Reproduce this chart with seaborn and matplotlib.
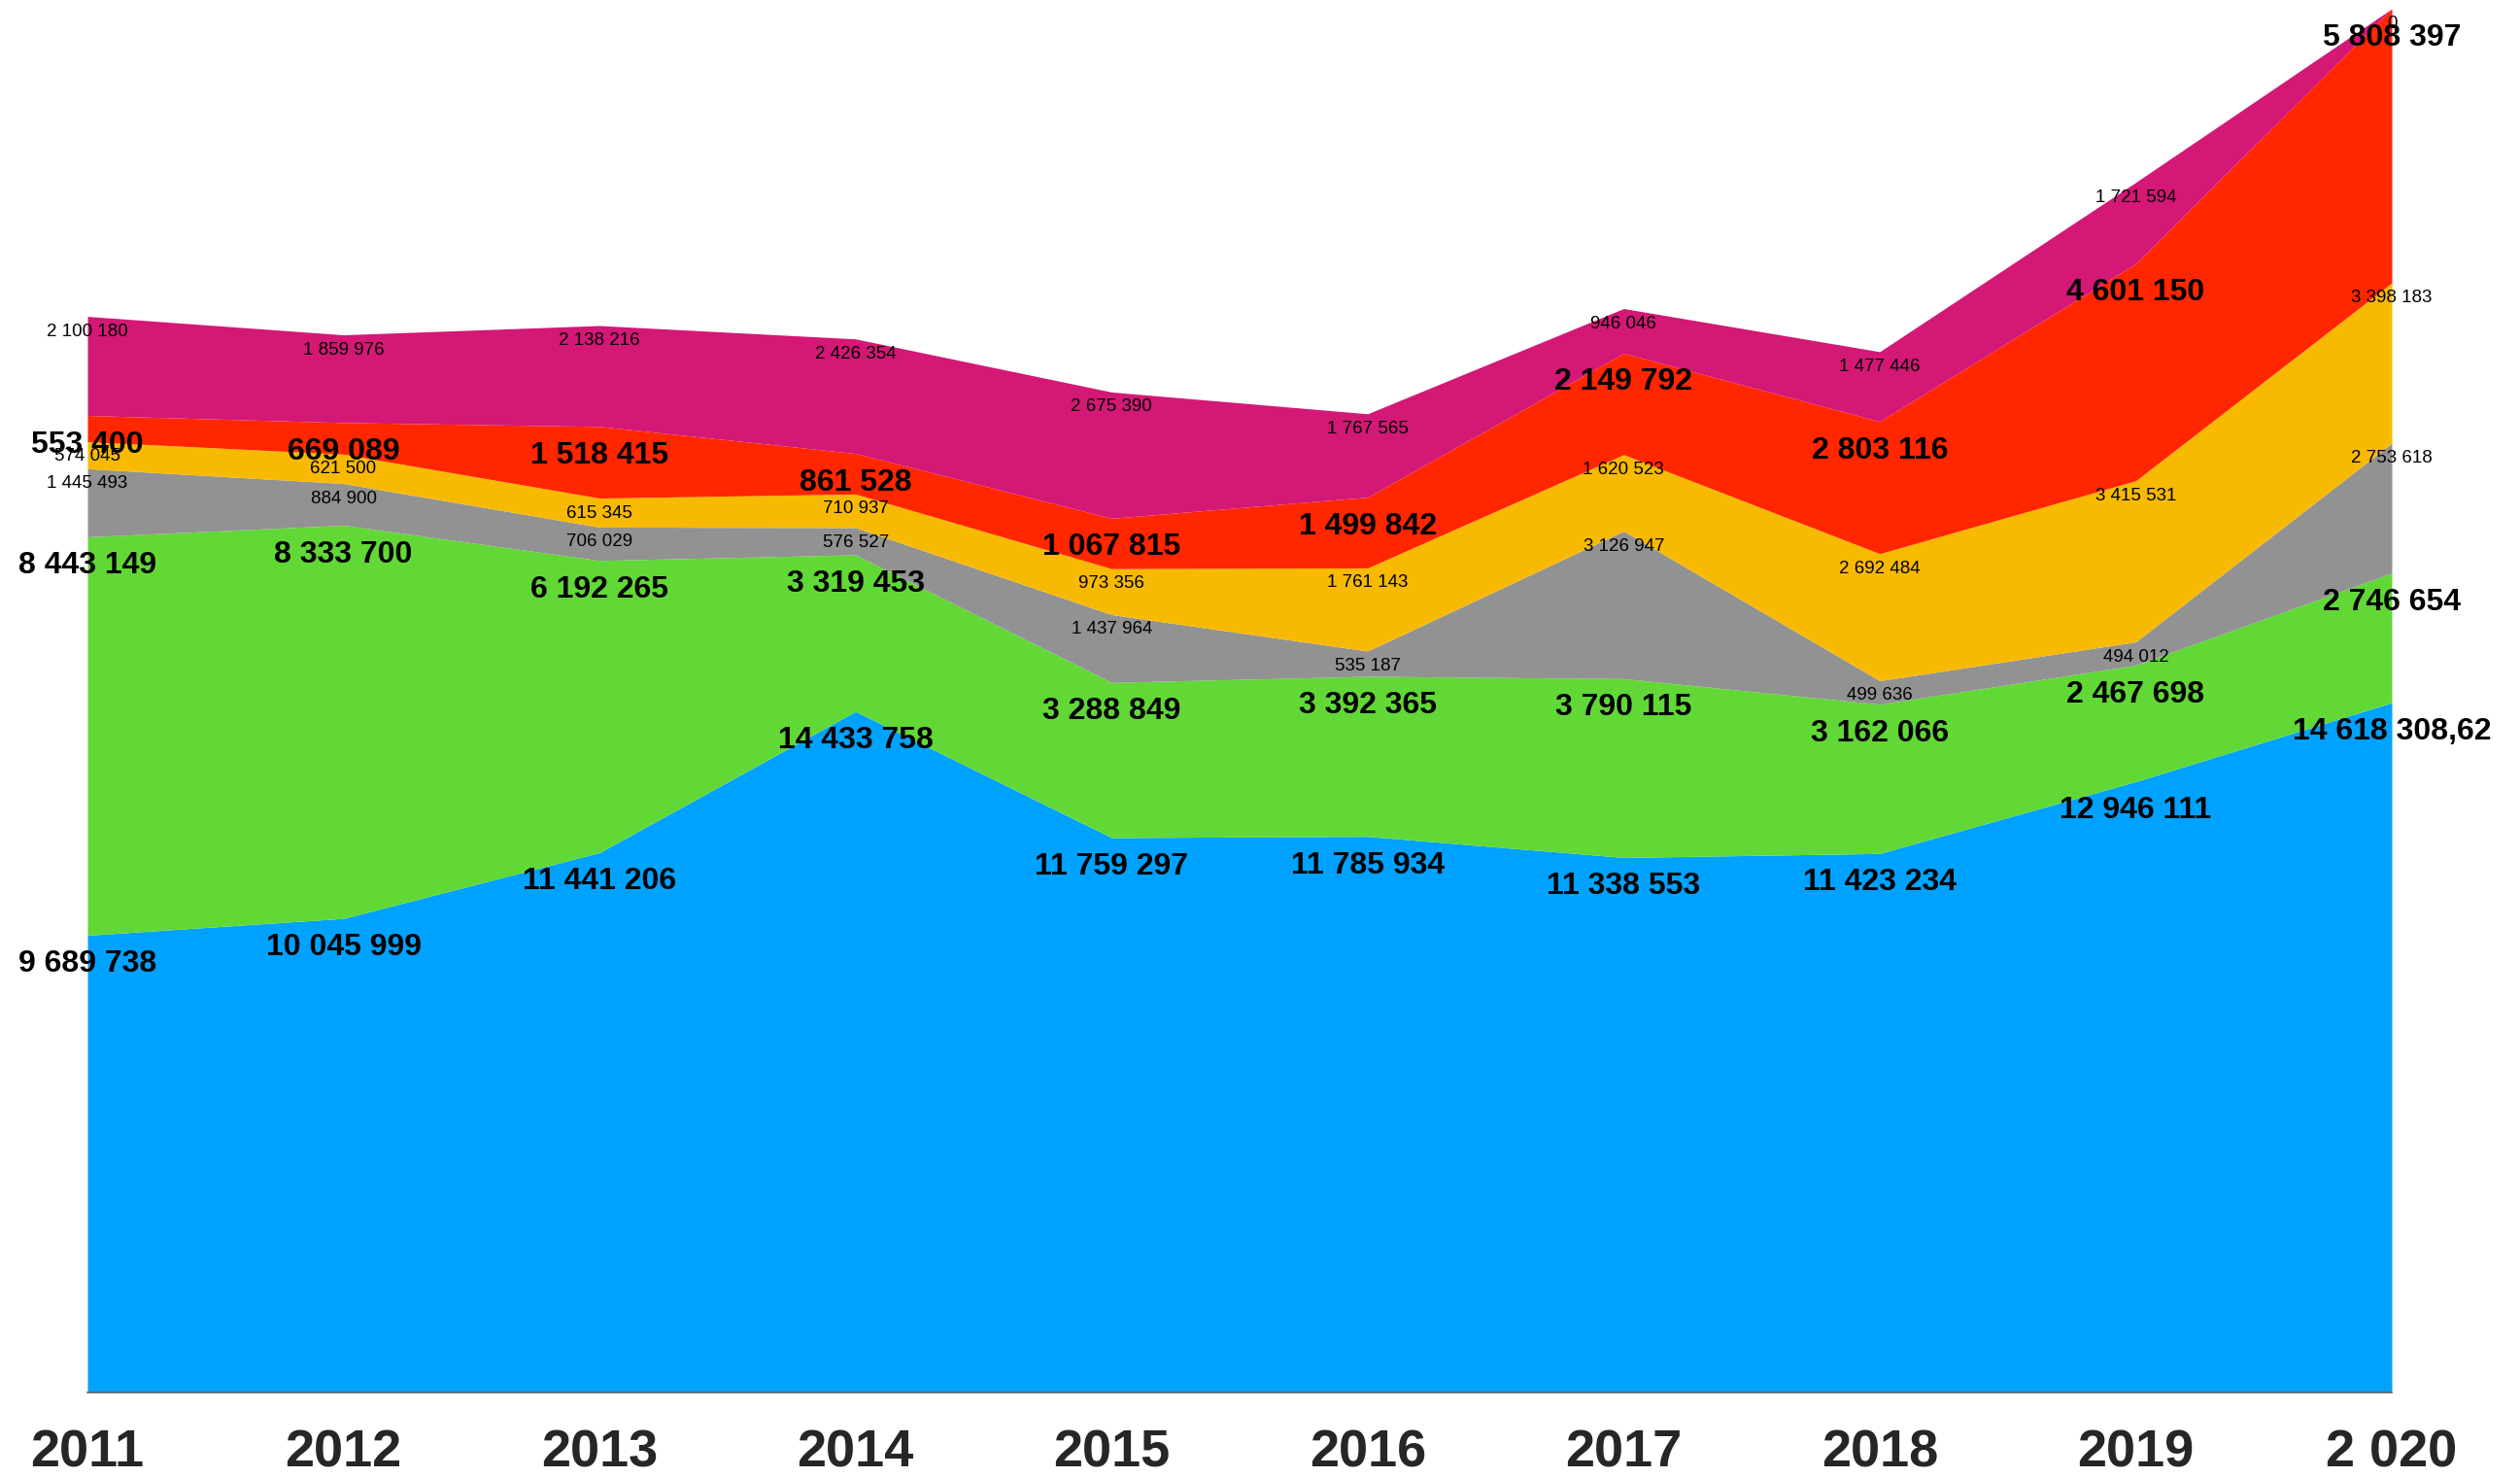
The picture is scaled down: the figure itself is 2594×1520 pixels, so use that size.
import numpy as np
import pandas as pd
import matplotlib
matplotlib.use("Agg")
import matplotlib.pyplot as plt
import seaborn as sns

# DATA

years = ["2011", "2012", "2013", "2014", "2015", "2016", "2017", "2018", "2019", "2 020"]

blue = [9689738, 10045999, 11441206, 14433758, 11759297, 11785934, 11338553, 11423234, 12946111, 14618308.62]
green = [8443149, 8333700, 6192265, 3319453, 3288849, 3392365, 3790115, 3162066, 2467698, 2746654]
gray = [1445493, 884900, 706029, 576527, 1437964, 535187, 3126947, 499636, 494012, 2753618]
yellow = [574045, 621500, 615345, 710937, 973356, 1761143, 1620523, 2692484, 3415531, 3398183]
red = [553400, 669089, 1518415, 861528, 1067815, 1499842, 2149792, 2803116, 4601150, 5808397]
magenta = [2100180, 1859976, 2138216, 2426354, 2675390, 1767565, 946046, 1477446, 1721594, 0]

series_names = ["blue", "green", "gray", "yellow", "red", "magenta"]
colors = ["#00A2FF", "#61D836", "#929292", "#F8BA00", "#FF2600", "#D31876"]
big_label = [True, True, False, False, True, False]

df = pd.DataFrame(
    {"blue": blue, "green": green, "gray": gray,
     "yellow": yellow, "red": red, "magenta": magenta},
    index=years,
)


def fmt(v):
    if float(v).is_integer():
        return f"{int(v):,}".replace(",", " ")
    whole = int(v)
    frac = round((v - whole) * 100)
    return f"{whole:,}".replace(",", " ") + f",{frac:02d}"


# PLOT

sns.set_theme(style="white")
plt.rcParams["font.family"] = ["Liberation Sans", "DejaVu Sans"]

fig = plt.figure(figsize=(25.94, 15.2), dpi=100)
ax = fig.add_axes([90 / 2594, 87 / 1520, (2462 - 90) / 2594, (1433 - 9) / 1520])

x = np.arange(len(years))
ax.stackplot(x, [df[c].values for c in series_names], colors=colors, linewidth=0)

total = df.sum(axis=1).values
ax.set_xlim(0, len(years) - 1)
ax.set_ylim(0, total.max())

# value labels just below the top edge of each layer
cum = df.cumsum(axis=1)
for name, big in zip(series_names, big_label):
    for i in range(len(years)):
        top = cum[name].values[i]
        ax.annotate(
            fmt(df[name].values[i]),
            xy=(x[i], top),
            xytext=(0, -15 if big else -7),
            textcoords="offset pixels",
            ha="center", va="top",
            fontsize=23 if big else 13.5,
            fontweight="bold" if big else "normal",
            color="black",
            annotation_clip=False,
        )

ax.set_xticks(x)
ax.set_xticklabels(years, fontsize=39, fontweight="bold")
ax.tick_params(axis="x", length=0, pad=27)
ax.set_yticks([])

for s in ["left", "right", "top"]:
    ax.spines[s].set_visible(False)
ax.spines["bottom"].set_color("#666666")
ax.spines["bottom"].set_linewidth(1.2)

fig.savefig("out.png", dpi=100)
